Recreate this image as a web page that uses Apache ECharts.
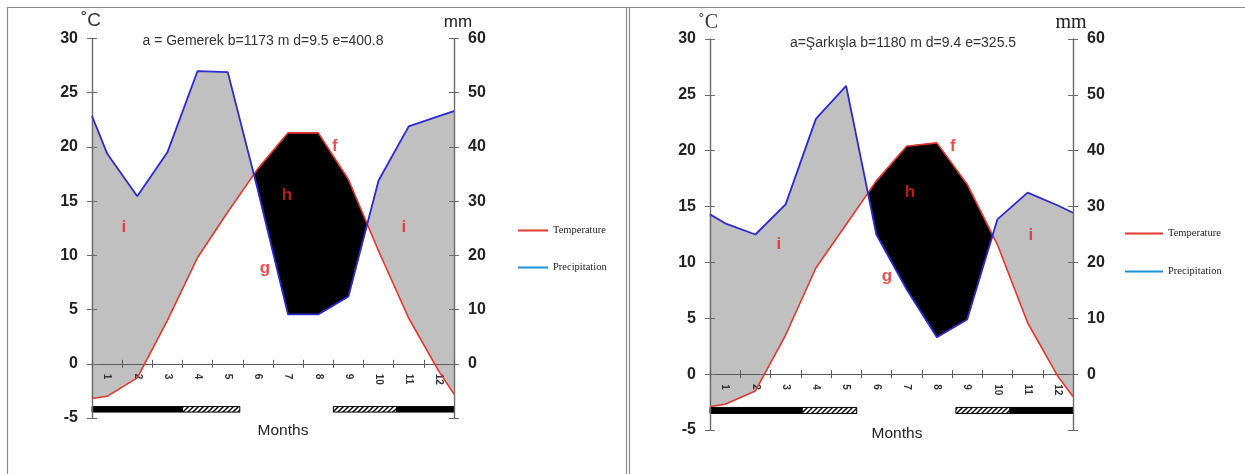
<!DOCTYPE html>
<html><head><meta charset="utf-8">
<script src="https://cdn.jsdelivr.net/npm/echarts@6/dist/echarts.min.js"></script>
<style>html,body{margin:0;padding:0;background:#fff}#c{width:1245px;height:474px}</style>
</head><body><div id="c"></div>
<script>
// ---------- data ----------
const months = ['1','2','3','4','5','6','7','8','9','10','11','12'];
const monthX = [1,2,3,4,5,6,7,8,9,10,11,12];
const edgeX = [0.5, 12.5];

// Gemerek
const gemTitle = 'a = Gemerek b=1173 m d=9.5 e=400.8';
const gemTemp = [-3.0,-1.3,4.0,9.8,14.0,18.0,21.3,21.3,17.0,10.4,4.2,-0.7];
const gemPrec = [38.8,30.9,39.0,54.0,53.8,32.0,9.1,9.1,12.4,33.8,43.8,45.7];
const gemTempEdges = [-3.2,-2.8];
const gemPrecEdges = [45.7,46.6];
const gemFrost = [[0.5,3.5,'sure'],[3.5,5.4,'prob'],[8.5,10.6,'prob'],[10.6,12.5,'sure']];
const gemLetters = [[1.56,12.6,'i'],[6.96,15.5,'h'],[6.23,8.8,'g'],[8.55,20.1,'f'],[10.84,12.6,'i']];

// Sarkisla
const sarTitle = 'a=Şarkışla b=1180 m d=9.4 e=325.5';
const sarTemp = [-2.7,-1.5,3.5,9.5,13.4,17.3,20.4,20.7,17.0,11.6,4.6,-0.2];
const sarPrec = [27.0,25.0,30.4,45.7,51.6,25.0,15.2,6.6,9.8,27.7,32.5,30.2];
const sarTempEdges = [-2.9,-2.0];
const sarPrecEdges = [28.6,28.9];
const sarFrost = [[0.5,3.55,'sure'],[3.55,5.35,'prob'],[8.63,10.42,'prob'],[10.42,12.5,'sure']];
const sarLetters = [[2.78,11.6,'i'],[7.11,16.25,'h'],[6.35,8.8,'g'],[8.53,20.4,'f'],[11.11,12.4,'i']];

const tempTicks = {min:-5, max:30, interval:5};
const precTicks = {min:-10, max:60, interval:10};

// ---------- helpers ----------
const SANS = 'Liberation Sans, Arial, sans-serif';
const SERIF = 'Liberation Serif, Times New Roman, serif';
const RED = '#e5362f', BLUE = '#2b2bd0', LBLUE = '#1e8fd6';

function hatchCanvas(){
  const c = document.createElement('canvas'); c.width = 5; c.height = 5;
  const g = c.getContext('2d');
  g.fillStyle = '#fff'; g.fillRect(0,0,5,5);
  g.strokeStyle = '#000'; g.lineWidth = 1.5;
  g.beginPath();
  g.moveTo(0,5); g.lineTo(5,0);
  g.moveTo(-1,1); g.lineTo(1,-1);
  g.moveTo(4,6); g.lineTo(6,4);
  g.stroke();
  return c;
}
const hatch = {image: hatchCanvas(), repeat: 'repeat'};

function fullSeries(edges, vals){ return [edges[0]].concat(vals, [edges[1]]); }
const fullX = [edgeX[0]].concat(monthX, [edgeX[1]]);

function buildRegions(t, p){
  const pts = [];
  for (let i = 0; i < fullX.length; i++){
    pts.push({x: fullX[i], t: t[i], p: p[i] / 2});
    if (i < fullX.length - 1){
      const d0 = p[i]/2 - t[i], d1 = p[i+1]/2 - t[i+1];
      if (d0 * d1 < 0){
        const f = d0 / (d0 - d1);
        const x = fullX[i] + f * (fullX[i+1] - fullX[i]);
        const y = t[i] + f * (t[i+1] - t[i]);
        pts.push({x: x, t: y, p: y, cross: true});
      }
    }
  }
  const regions = []; let cur = [pts[0]];
  for (let i = 1; i < pts.length; i++){
    cur.push(pts[i]);
    if (pts[i].cross){ regions.push(cur); cur = [pts[i]]; }
  }
  if (cur.length > 1) regions.push(cur);
  return regions.map(r => {
    let s = 0; r.forEach(q => { s += q.p - q.t; });
    const poly = r.map(q => [q.x, q.p]).concat(r.slice().reverse().map(q => [q.x, q.t]));
    return {poly: poly, color: s > 0 ? '#c0c0c0' : '#000'};
  });
}

const option = {
  backgroundColor: '#fff',
  animation: false,
  grid: [], xAxis: [], yAxis: [], series: [], legend: [], graphic: []
};

function addPanel(g, cfg){
  option.grid.push({left: cfg.grid[0], top: cfg.grid[1], width: cfg.grid[2], height: cfg.grid[3], containLabel: false});
  const axisCol = '#5a5a5a';
  // lift the month axis from the grid bottom to the 0 °C level
  const zeroOffset = -cfg.grid[3] * (0 - tempTicks.min) / (tempTicks.max - tempTicks.min);
  option.xAxis.push(
    {type:'category', gridIndex:g, data:months, position:'bottom', offset:zeroOffset, boundaryGap:true, z:4,
     axisLine:{show:true, onZero:false, lineStyle:{color:axisCol, width:1.2}},
     axisTick:{show:true, length:4, lineStyle:{color:axisCol}},
     axisLabel:{rotate:-90, fontSize:10, fontWeight:'bold', color:'#333', margin:10, fontFamily:SANS},
     splitLine:{show:false}},
    {type:'category', gridIndex:g, data:months, position:'bottom', offset:zeroOffset, boundaryGap:true, z:4,
     axisLine:{show:true, onZero:false, lineStyle:{color:axisCol, width:1.2}},
     axisTick:{show:true, inside:true, length:4, lineStyle:{color:axisCol}},
     axisLabel:{show:false}, splitLine:{show:false}},
    {type:'value', gridIndex:g, min:edgeX[0], max:edgeX[1], show:false, position:'top', axisLine:{onZero:false}}
  );
  const yl = {type:'value', gridIndex:g, position:'left', min:tempTicks.min, max:tempTicks.max, interval:tempTicks.interval, z:4,
     axisLine:{show:true, onZero:false, lineStyle:{color:'#6a6a6a', width:1.2}},
     axisTick:{show:true, length:5, lineStyle:{color:'#6a6a6a'}},
     axisLabel:{fontSize:16, fontWeight:'bold', color:'#222', margin:14, fontFamily:SANS},
     splitLine:{show:false}};
  const yr = {type:'value', gridIndex:g, position:'right', min:precTicks.min, max:precTicks.max, interval:precTicks.interval, z:4,
     axisLine:{show:true, onZero:false, lineStyle:{color:'#6a6a6a', width:1.2}},
     axisTick:{show:true, length:5, lineStyle:{color:'#6a6a6a'}},
     axisLabel:{fontSize:16, fontWeight:'bold', color:'#222', margin:14, fontFamily:SANS, formatter: v => v < 0 ? '' : String(v)},
     splitLine:{show:false}};
  option.yAxis.push(yl, yr,
    Object.assign({}, yl, {axisTick:{show:true, inside:true, length:5, lineStyle:{color:'#6a6a6a'}}, axisLabel:{show:false}}),
    Object.assign({}, yr, {axisTick:{show:true, inside:true, length:5, lineStyle:{color:'#6a6a6a'}}, axisLabel:{show:false}})
  );
  const xi = 3*g + 2, yt = 4*g, yp = 4*g + 1;
  const t = fullSeries(cfg.tempEdges, cfg.temp);
  const p = fullSeries(cfg.precEdges, cfg.prec);
  const regions = buildRegions(t, p);
  option.series.push({
    type:'custom', xAxisIndex:xi, yAxisIndex:yt, z:1, clip:false, silent:true,
    data: regions.map((r,i) => [r.poly[0][0], 0]),
    renderItem: (params, api) => {
      const r = regions[params.dataIndex];
      return {type:'polygon', shape:{points: r.poly.map(q => api.coord(q))},
              style:{fill:r.color, stroke:r.color, lineWidth:0.6}};
    }
  });
  const frost = cfg.frost;
  option.series.push({
    type:'custom', xAxisIndex:xi, yAxisIndex:yt, z:3, clip:false, silent:true,
    data: frost.map(f => [f[0], cfg.barY]),
    renderItem: (params, api) => {
      const f = frost[params.dataIndex];
      const a = api.coord([f[0], cfg.barY]), b = api.coord([f[1], cfg.barY]);
      const h = cfg.barH;
      return {type:'rect', shape:{x:a[0], y:a[1]-h/2, width:b[0]-a[0], height:h},
              style:{fill: f[2] === 'sure' ? '#000' : hatch, stroke:'#000', lineWidth:1}};
    }
  });
  option.series.push({
    name:'Temperature', type:'line', xAxisIndex:xi, yAxisIndex:yt, z:6, symbol:'none',
    color: RED, lineStyle:{color:RED, width:1.6},
    data: fullX.map((x,i) => [x, t[i]])
  });
  option.series.push({
    name:'Precipitation', type:'line', xAxisIndex:xi, yAxisIndex:yp, z:6, symbol:'none',
    color: BLUE, lineStyle:{color:BLUE, width:1.8},
    data: fullX.map((x,i) => [x, p[i]])
  });
  option.series.push({
    type:'scatter', xAxisIndex:xi, yAxisIndex:yt, z:7, symbolSize:0, silent:true,
    data: cfg.letters,
    label:{show:true, position:'inside', formatter: q => q.value[2], color:'#e2271f', fontSize:17, fontWeight:'bold', fontFamily:SANS}
  });
  option.legend.push({
    orient:'vertical', left:cfg.legend[0], top:cfg.legend[1], itemGap:cfg.legend[2], itemWidth:cfg.legend[3], itemHeight:2,
    icon:'rect', selectedMode:false,
    textStyle:{fontFamily:SERIF, fontSize:10.5, color:'#222'},
    data:[{name:'Temperature', itemStyle:{color:RED}}, {name:'Precipitation', itemStyle:{color:LBLUE}}]
  });
  const T = cfg.text;
  option.graphic.push(
    {type:'text', x:T.title[0], y:T.title[1], style:{text:cfg.title, font:'14px '+SANS, fill:'#333', align:'center', verticalAlign:'middle'}},
    {type:'text', x:T.months[0], y:T.months[1], style:{text:'Months', font:'15.5px '+SANS, fill:'#222', align:'center', verticalAlign:'middle'}},
    {type:'text', x:T.degC[0], y:T.degC[1], style:{text:'˚C', font:T.degFont, fill:'#333', align:'center', verticalAlign:'middle'}},
    {type:'text', x:T.mm[0], y:T.mm[1], style:{text:'mm', font:T.mmFont, fill:'#222', align:'center', verticalAlign:'middle'}}
  );
}

addPanel(0, {
  grid:[92, 38.5, 362, 379.5], temp:gemTemp, prec:gemPrec, tempEdges:gemTempEdges, precEdges:gemPrecEdges,
  frost:gemFrost, barY:-4.2, barH:5.5, letters:gemLetters, title:gemTitle,
  legend:[513, 220, 26, 30],
  text:{title:[263,41], months:[283,431], degC:[91,21], mm:[458,22], degFont:'19px '+SANS, mmFont:'17px '+SANS}
});
addPanel(1, {
  grid:[710, 39, 363, 391], temp:sarTemp, prec:sarPrec, tempEdges:sarTempEdges, precEdges:sarPrecEdges,
  frost:sarFrost, barY:-3.25, barH:6, letters:sarLetters, title:sarTitle,
  legend:[1120, 223, 27, 38],
  text:{title:[903,43], months:[897,434], degC:[708,23], mm:[1071,23], degFont:'20px '+SERIF, mmFont:'20px '+SERIF}
});

// panel frames
const frameCol = '#8a8a8a';
option.graphic.push(
  {type:'line', shape:{x1:7, y1:7.5, x2:1245, y2:7.5}, style:{stroke:frameCol, lineWidth:1.2}},
  {type:'line', shape:{x1:7.5, y1:7, x2:7.5, y2:474}, style:{stroke:frameCol, lineWidth:1.2}},
  {type:'line', shape:{x1:626.5, y1:7, x2:626.5, y2:474}, style:{stroke:frameCol, lineWidth:1.2}},
  {type:'line', shape:{x1:629.5, y1:7, x2:629.5, y2:474}, style:{stroke:frameCol, lineWidth:1.2}}
);

const chart = echarts.init(document.getElementById('c'));
chart.setOption(option);
</script></body></html>
